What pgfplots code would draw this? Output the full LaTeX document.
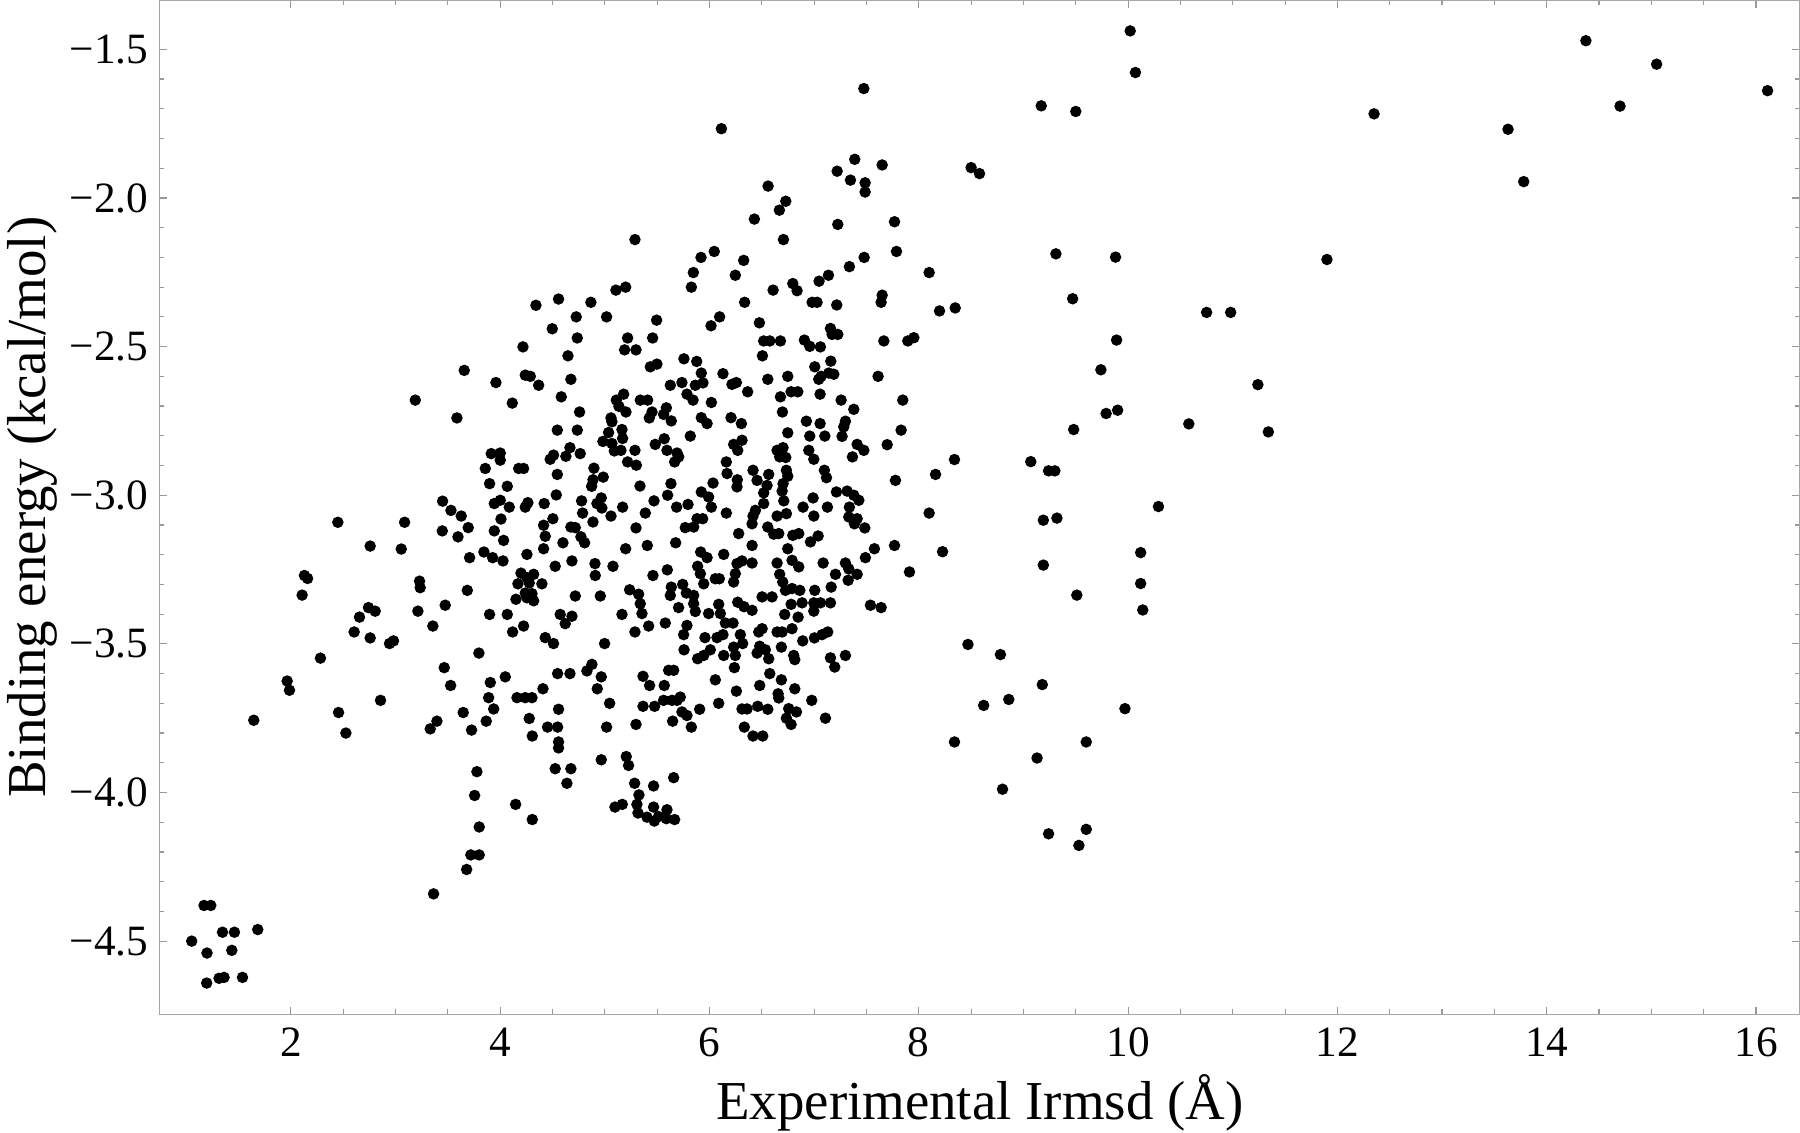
\documentclass[border=0pt]{standalone}
\usepackage{fontspec}
\setmainfont{Liberation Serif}
\usepackage{pgfplots}
\pgfplotsset{compat=1.18}
\begin{document}
\begin{tikzpicture}
\useasboundingbox (-15.95mm,-11.83mm) rectangle (163.95mm,101.37mm);
\begin{axis}[
  scale only axis, width=163.95mm, height=101.37mm,
  at={(0,0)}, anchor=south west,
  xmin=0.746, xmax=16.42, ymin=-4.746, ymax=-1.334,
  axis line style={draw=black!35, line width=0.12mm},
  tick style={draw=black!40, line width=0.12mm},
  tick align=inside,
  major tick length=0.77mm, minor tick length=0.48mm,
  xtick={2,4,...,16}, minor x tick num=3,
  ytick={-4.5,-4,-3.5,-3,-2.5,-2,-1.5}, minor y tick num=4,
  yticklabels={−4.5,−4.0,−3.5,−3.0,−2.5,−2.0,−1.5},
  xtick pos=both, ytick pos=both, xticklabel pos=lower, yticklabel pos=left,
  /pgf/number format/assume math mode=true,
  ticklabel style={font=\fontsize{12.3}{14}\selectfont},
  yticklabel style={inner sep=0pt, anchor=east, xshift=-1.05mm},
  xticklabel style={inner sep=0pt, anchor=north, yshift=-1.3mm},
  xlabel={Experimental Irmsd (Å)},
  ylabel={Binding energy (kcal/mol)},
  every axis x label/.style={at={(axis description cs:0.5,0)}, anchor=base, yshift=-10.55mm, inner sep=0pt, font=\fontsize{15.6}{18}\selectfont},
  every axis y label/.style={at={(axis description cs:0,0.5)}, rotate=90, anchor=north, yshift=15.3mm, inner sep=0pt, font=\fontsize{15.6}{18}\selectfont},
  clip=false,
]
\addplot[only marks, mark=*, mark size=0.5mm, black] coordinates {
(4.342,-2.361) (4.218,-2.501)
(5.288,-2.140) (6.046,-2.180) (5.919,-2.200) (6.327,-2.210) (5.846,-2.251) (6.247,-2.260) (5.827,-2.300) (5.106,-2.310) (5.199,-2.300)
(4.558,-2.340) (4.867,-2.351) (4.498,-2.440) (4.727,-2.400) (5.017,-2.400) (4.737,-2.471) (4.648,-2.531) (5.495,-2.411) (5.218,-2.471)
(5.457,-2.471) (5.189,-2.511) (5.298,-2.511) (5.435,-2.568) (5.498,-2.559) (6.097,-2.400) (6.015,-2.430) (6.336,-2.351) (5.756,-2.541) (5.878,-2.550)
(7.388,-1.870) (7.650,-1.889) (7.220,-1.910) (7.347,-1.940) (7.487,-1.949) (7.487,-1.980) (6.560,-1.960) (6.729,-2.011) (6.668,-2.041) (6.429,-2.071)
(7.226,-2.089) (7.768,-2.080) (6.707,-2.140) (7.787,-2.180) (7.478,-2.200) (7.337,-2.231) (8.099,-2.251) (7.137,-2.260) (7.047,-2.280) (6.796,-2.288)
(6.837,-2.312) (6.608,-2.310) (6.981,-2.351) (7.028,-2.351) (7.216,-2.360) (7.650,-2.327) (7.640,-2.351) (8.198,-2.380) (8.348,-2.370) (6.477,-2.420)
(6.518,-2.481) (6.576,-2.481) (6.678,-2.481) (6.506,-2.531) (6.907,-2.478) (6.958,-2.499) (7.060,-2.501) (7.156,-2.439) (7.172,-2.459) (7.226,-2.459)
(7.666,-2.481) (7.895,-2.481) (7.953,-2.470) (7.006,-2.568) (7.159,-2.549)
(3.657,-2.580) (3.960,-2.621) (4.240,-2.596) (4.288,-2.600) (4.368,-2.630) (4.116,-2.690) (3.189,-2.680) (3.587,-2.740) (3.915,-2.860) (4.001,-2.858)
(4.001,-2.882) (3.858,-2.910) (4.177,-2.910) (4.224,-2.910) (3.899,-2.961) (4.068,-2.970) (3.450,-3.020) (3.530,-3.051) (3.628,-3.070) (3.695,-3.109)
(3.447,-3.120) (3.597,-3.140) (3.944,-3.028) (4.001,-3.017) (4.087,-3.040) (4.240,-3.040) (4.265,-3.025) (4.008,-3.080) (3.944,-3.120) (4.033,-3.152)
(2.449,-3.091) (3.087,-3.091) (2.758,-3.171) (3.055,-3.181) (3.708,-3.210) (3.845,-3.191) (3.928,-3.210) (4.027,-3.221) (4.256,-3.199) (3.230,-3.289)
(3.236,-3.311) (3.686,-3.320) (4.199,-3.262) (4.256,-3.277) (4.320,-3.266) (4.170,-3.298) (4.278,-3.295) (4.240,-3.329) (4.304,-3.331) (4.151,-3.350)
(4.256,-3.345) (4.320,-3.355)
(5.922,-2.589) (5.938,-2.622) (5.865,-2.630) (6.129,-2.591) (4.676,-2.610) (5.626,-2.630) (5.737,-2.621) (6.215,-2.627) (6.257,-2.621) (6.365,-2.652)
(4.584,-2.669) (5.180,-2.660) (5.110,-2.680) (5.135,-2.701) (5.202,-2.720) (5.339,-2.680) (5.409,-2.680) (5.785,-2.660) (5.843,-2.680) (6.018,-2.688)
(4.759,-2.720) (5.451,-2.720) (5.425,-2.740) (5.588,-2.706) (5.562,-2.728) (5.635,-2.750) (5.922,-2.739) (5.977,-2.759) (6.206,-2.739) (6.305,-2.759)
(5.059,-2.740) (5.068,-2.753) (4.546,-2.781) (4.737,-2.781) (5.164,-2.779) (5.036,-2.789) (4.982,-2.819) (5.170,-2.809) (5.068,-2.826) (5.091,-2.851)
(5.154,-2.849) (5.288,-2.849) (5.817,-2.801) (5.482,-2.829) (5.568,-2.810) (5.594,-2.849) (5.690,-2.858) (5.706,-2.871) (5.667,-2.888) (6.311,-2.815)
(6.231,-2.829) (6.270,-2.849) (4.667,-2.840) (4.628,-2.869) (4.765,-2.860) (4.478,-2.879) (4.510,-2.865) (5.218,-2.888) (5.301,-2.899) (6.161,-2.888)
(6.168,-2.927) (6.266,-2.948) (6.263,-2.972) (4.546,-2.930) (4.896,-2.909) (4.985,-2.939) (4.887,-2.948) (4.874,-2.970) (5.336,-2.969) (5.632,-2.961)
(5.600,-3.000) (6.034,-2.959) (5.922,-2.989) (5.992,-3.006) (6.018,-3.040) (4.536,-2.999) (4.421,-3.028) (4.778,-3.019) (4.966,-3.009) (4.925,-3.028)
(4.972,-3.043) (5.059,-3.070) (4.788,-3.060) (5.170,-3.040) (5.470,-3.019) (5.387,-3.060) (5.686,-3.040) (5.795,-3.031) (6.161,-3.060) (4.504,-3.079)
(4.415,-3.101) (4.431,-3.138) (4.887,-3.090) (4.676,-3.107) (4.718,-3.109) (4.772,-3.140) (4.807,-3.160) (4.600,-3.160) (4.415,-3.180) (5.298,-3.110)
(5.881,-3.079) (5.935,-3.079) (5.769,-3.109) (5.849,-3.107) (6.279,-3.129) (5.199,-3.180) (5.406,-3.169) (5.677,-3.160) (5.916,-3.191) (5.977,-3.210)
(6.136,-3.199) (4.526,-3.239) (4.686,-3.221) (4.906,-3.230) (4.909,-3.270) (5.078,-3.239) (5.460,-3.270) (5.597,-3.251) (5.887,-3.239) (5.913,-3.264)
(5.945,-3.298) (6.056,-3.281) (6.094,-3.281) (6.263,-3.230) (6.311,-3.221) (6.247,-3.264) (6.231,-3.292) (4.399,-3.298) (5.744,-3.300) (5.635,-3.309)
(5.626,-3.337) (5.237,-3.318) (5.323,-3.333) (4.718,-3.339) (4.957,-3.339) (5.779,-3.329) (5.849,-3.337)
(6.557,-2.610) (6.748,-2.600) (7.044,-2.610) (7.067,-2.600) (7.140,-2.589) (7.188,-2.593) (7.611,-2.600) (6.678,-2.669) (6.780,-2.652) (6.844,-2.652)
(7.057,-2.660) (7.258,-2.680) (7.379,-2.711) (7.847,-2.680) (6.697,-2.720) (6.926,-2.751) (7.057,-2.759) (7.299,-2.751) (7.283,-2.770) (7.267,-2.802)
(7.831,-2.781) (6.748,-2.790) (6.958,-2.801) (7.102,-2.801) (7.698,-2.830) (7.411,-2.829) (7.475,-2.849) (7.366,-2.871) (6.646,-2.849) (6.703,-2.840)
(6.671,-2.871) (6.729,-2.873) (6.949,-2.849) (6.997,-2.879) (8.341,-2.880) (8.160,-2.930) (7.777,-2.950) (6.416,-2.916) (6.455,-2.950) (6.566,-2.930)
(6.550,-2.967) (6.518,-2.992) (6.735,-2.916) (6.748,-2.936) (6.703,-2.961) (6.694,-2.986) (6.710,-3.019) (7.098,-2.916) (7.118,-2.941) (7.213,-2.989)
(7.315,-2.986) (7.379,-3.000) (7.427,-3.017) (7.337,-3.040) (6.990,-3.009) (6.894,-3.040) (7.127,-3.040) (6.997,-3.070) (6.518,-3.028) (6.439,-3.051)
(6.416,-3.070) (6.407,-3.096) (6.646,-3.070) (6.735,-3.062) (7.331,-3.073) (7.411,-3.079) (7.385,-3.096) (7.484,-3.110) (8.099,-3.060) (6.557,-3.107)
(6.614,-3.131) (6.662,-3.129) (6.796,-3.135) (6.853,-3.129) (6.965,-3.157) (7.038,-3.137) (6.748,-3.180) (6.407,-3.169) (7.576,-3.180) (7.768,-3.169)
(8.227,-3.190) (7.490,-3.210) (6.646,-3.228) (6.407,-3.228) (6.789,-3.219) (6.853,-3.241) (7.086,-3.228) (7.299,-3.228) (7.331,-3.248) (7.411,-3.266)
(7.325,-3.286) (7.204,-3.266) (7.163,-3.309) (7.911,-3.258) (6.671,-3.266) (6.700,-3.292) (6.726,-3.320) (6.789,-3.314) (6.863,-3.320) (7.006,-3.320)
(6.503,-3.342) (6.598,-3.342)
(3.475,-3.370) (2.742,-3.378) (2.806,-3.390) (2.656,-3.410) (3.214,-3.390) (2.605,-3.460) (2.758,-3.480) (2.943,-3.499) (2.981,-3.490) (3.357,-3.440)
(3.899,-3.401) (4.068,-3.401) (4.119,-3.460) (4.224,-3.440) (3.797,-3.531) (3.466,-3.580) (3.527,-3.640) (4.049,-3.611) (3.906,-3.630) (3.890,-3.681)
(3.938,-3.719) (4.161,-3.681) (4.240,-3.681) (4.304,-3.681) (2.857,-3.690) (2.456,-3.731) (2.526,-3.800) (3.647,-3.731) (3.396,-3.760) (3.332,-3.786)
(3.727,-3.790) (3.867,-3.760) (4.278,-3.751) (4.307,-3.810) (3.778,-3.930) (3.756,-4.010) (4.148,-4.040) (4.307,-4.091) (3.800,-4.116)
(3.68,-4.259) (3.72,-4.21) (3.80,-4.21) (3.364,-4.341)
(5.339,-3.365) (5.355,-3.398) (5.164,-3.401) (4.574,-3.401) (4.686,-3.407) (4.622,-3.432) (5.705,-3.378) (5.849,-3.365) (5.865,-3.391) (5.992,-3.398)
(6.088,-3.367) (6.104,-3.398) (6.152,-3.430) (6.225,-3.430) (6.27,-3.36) (6.33,-3.375) (5.578,-3.430) (5.419,-3.440) (5.288,-3.460) (5.785,-3.438)
(5.753,-3.469) (4.431,-3.479) (4.510,-3.499) (4.998,-3.499) (5.957,-3.479) (6.072,-3.479) (6.129,-3.469) (6.295,-3.469) (6.317,-3.499) (6.231,-3.511)
(6.247,-3.539) (5.757,-3.520) (5.887,-3.550) (5.945,-3.539) (6.008,-3.520) (6.136,-3.539) (6.238,-3.580) (4.829,-3.591) (4.877,-3.569) (4.549,-3.600)
(4.667,-3.600) (4.966,-3.611) (4.409,-3.651) (4.928,-3.651) (5.365,-3.609) (5.428,-3.640) (5.568,-3.640) (5.610,-3.589) (5.658,-3.589) (6.056,-3.621)
(6.257,-3.659) (5.046,-3.700) (5.365,-3.710) (5.476,-3.710) (5.562,-3.690) (5.642,-3.690) (5.721,-3.679) (5.690,-3.690) (5.737,-3.729) (5.785,-3.741)
(5.906,-3.720) (6.088,-3.700) (6.311,-3.719) (6.359,-3.719) (4.558,-3.720) (4.453,-3.780) (4.549,-3.780) (5.017,-3.780) (5.298,-3.771) (5.648,-3.760)
(5.827,-3.780) (6.333,-3.780) (4.558,-3.830) (4.558,-3.850) (4.966,-3.890) (5.205,-3.879) (5.227,-3.909) (4.526,-3.920) (4.676,-3.920) (4.638,-3.969)
(5.658,-3.950) (5.285,-3.969) (5.466,-3.978) (5.326,-4.008) (5.097,-4.049) (5.167,-4.040) (5.307,-4.040) (5.317,-4.069) (5.466,-4.049) (5.473,-4.096)
(5.403,-4.083) (5.594,-4.058) (5.588,-4.088) (5.667,-4.091) (5.514,-4.081)
(6.780,-3.367) (6.885,-3.362) (6.997,-3.362) (7.060,-3.362) (7.156,-3.362) (6.407,-3.387) (6.719,-3.401) (6.847,-3.410) (6.997,-3.390) (7.538,-3.370)
(7.640,-3.378) (6.471,-3.460) (6.503,-3.449) (6.646,-3.460) (6.694,-3.460) (6.789,-3.449) (6.891,-3.490) (7.003,-3.480) (7.076,-3.469) (7.130,-3.460)
(6.687,-3.511) (6.480,-3.508) (6.534,-3.520) (6.455,-3.531) (6.566,-3.550) (6.805,-3.539) (6.815,-3.553) (7.156,-3.547) (7.197,-3.578) (7.299,-3.539)
(6.576,-3.600) (6.687,-3.621) (6.480,-3.640) (6.815,-3.651) (6.656,-3.668) (6.662,-3.682) (6.977,-3.690) (6.461,-3.710) (6.557,-3.720) (6.757,-3.718)
(6.831,-3.729) (6.735,-3.750) (6.780,-3.771) (7.108,-3.750) (6.416,-3.810) (6.509,-3.810) (8.341,-3.830)
(1.646,-3.757) (1.965,-3.625) (1.987,-3.656) (2.283,-3.548) (2.108,-3.336) (2.13,-3.27) (2.16,-3.28)
(1.171,-4.380) (1.235,-4.380) (1.053,-4.500) (1.347,-4.470) (1.461,-4.470) (1.684,-4.461) (1.199,-4.540) (1.436,-4.531) (1.196,-4.641) (1.314,-4.625)
(1.362,-4.622) (1.538,-4.622)
(7.475,-1.632) (6.114,-1.767)
(8.50,-1.898) (8.58,-1.918) (9.17,-1.690) (9.50,-1.709) (10.02,-1.438) (10.07,-1.578) (12.35,-1.717) (13.63,-1.769) (13.78,-1.945) (14.374,-1.471)
(14.70,-1.691) (15.05,-1.550) (16.11,-1.639)
(9.31,-2.188) (9.88,-2.199) (9.47,-2.339) (9.89,-2.478) (9.74,-2.578) (9.79,-2.725) (9.90,-2.714) (9.48,-2.779) (9.07,-2.887) (9.24,-2.918)
(9.30,-2.918) (9.32,-3.077) (9.19,-3.084) (9.19,-3.235) (9.51,-3.336) (9.18,-3.637) (9.13,-3.884) (9.24,-4.139) (9.60,-3.830) (9.60,-4.124)
(9.53,-4.178) (9.97,-3.718) (10.29,-3.038) (10.12,-3.193) (10.12,-3.297) (10.14,-3.386) (10.58,-2.760) (10.75,-2.385) (10.98,-2.385) (11.24,-2.628)
(11.34,-2.787) (11.90,-2.207)
(8.47,-3.502) (8.62,-3.707) (8.78,-3.536) (8.86,-3.687) (8.80,-3.989)
};
\end{axis}
\end{tikzpicture}
\end{document}
